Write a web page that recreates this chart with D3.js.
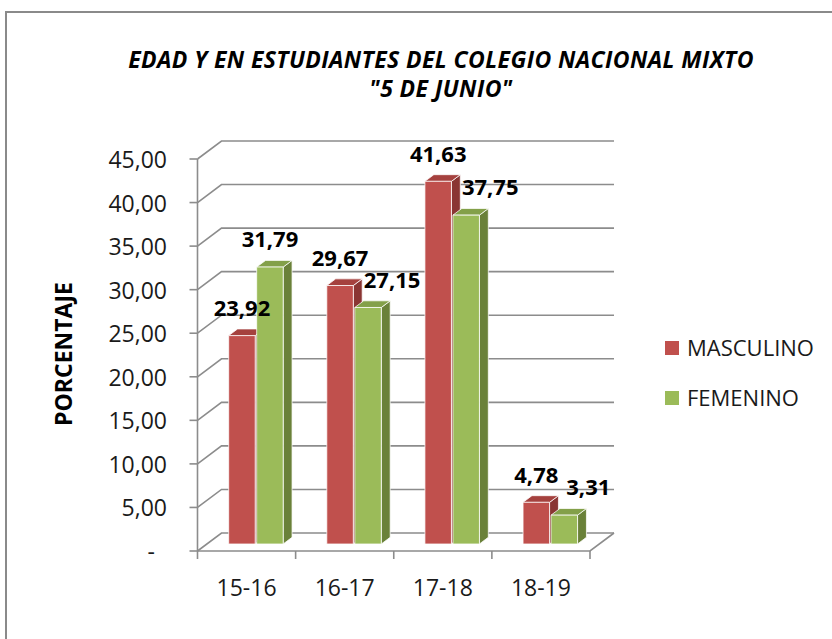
<!DOCTYPE html>
<html>
<head>
<meta charset="utf-8">
<script src="https://cdn.jsdelivr.net/npm/d3@7"></script>
<style>
	body { margin: 0; background: #fff; }
	svg { display: block; font-family: "Open Sans", sans-serif; }
</style>
</head>
<body>
<svg width="832" height="639"></svg>
<script>
const categories = ["15-16", "16-17", "17-18", "18-19"]
const seriesNames = ["MASCULINO", "FEMENINO"]
const masculino = [23.92, 29.67, 41.63, 4.78]
const femenino = [31.79, 27.15, 37.75, 3.31]
const yTicks = [0, 5, 10, 15, 20, 25, 30, 35, 40, 45]
const titleLines = ["EDAD Y EN ESTUDIANTES DEL COLEGIO NACIONAL MIXTO", "\"5 DE JUNIO\""]
const yTitle = "PORCENTAJE"

const colors = {
	MASCULINO: { front: "#c0504d", top: "#a5413e", side: "#8a3533" },
	FEMENINO: { front: "#9bbb59", top: "#83a049", side: "#6a8139" }
}

const svg = d3.select("svg")
const locale = d3.formatLocale({ decimal: ",", thousands: ".", grouping: [3], currency: ["", ""] })
const fmt = locale.format(".2f")

// front plane of the 3d box
const left = 197.5, right = 590
const depth = [24, -18]
const d0 = 0.39, d1 = 0.76   // bars sit inside the box
const barW = 26.5, barGap = 1.5

const x = d3.scaleBand().domain(categories).range([left, right])
const y = d3.scaleLinear().domain([0, 45]).range([551, 159])

function P(px, v, d) {
	return [px + depth[0] * d, y(v) + depth[1] * d]
}

// outer frame
svg.append("rect")
	.attr("x", 6).attr("y", 12)
	.attr("width", 840).attr("height", 640)
	.attr("fill", "none").attr("stroke", "#8a8a8a").attr("stroke-width", 2)

// title
svg.append("g").selectAll("text")
	.data(titleLines)
	.enter().append("text")
	.attr("x", 441)
	.attr("y", (d, i) => 68 + i * 29)
	.attr("text-anchor", "middle")
	.attr("font-size", 23)
	.attr("letter-spacing", 0.4)
	.attr("font-weight", "bold")
	.attr("font-style", "italic")
	.attr("fill", "#000")
	.text(d => d)

const grid = svg.append("g")
	.attr("fill", "none")
	.attr("stroke", "#8c8c8c")
	.attr("stroke-width", 1.6)

// back wall gridlines
grid.selectAll("path.grid")
	.data(yTicks)
	.enter().append("path")
	.attr("class", "grid")
	.attr("d", v => d3.line()([P(left, v, 0), P(left, v, 1), P(right, v, 1)]))

// floor front and right edges
grid.append("path")
	.attr("d", d3.line()([P(left, 0, 0), P(right, 0, 0), P(right, 0, 1)]))

// y axis
grid.append("line")
	.attr("x1", left).attr("x2", left)
	.attr("y1", y(45)).attr("y2", y(0) + 8)
grid.selectAll("line.ytick")
	.data(yTicks)
	.enter().append("line")
	.attr("class", "ytick")
	.attr("x1", left - 8).attr("x2", left)
	.attr("y1", v => y(v)).attr("y2", v => y(v))

// x axis ticks
const xBounds = categories.map(c => x(c)).concat([right])
grid.selectAll("line.xtick")
	.data(xBounds.slice(1))
	.enter().append("line")
	.attr("class", "xtick")
	.attr("x1", d => d).attr("x2", d => d)
	.attr("y1", y(0)).attr("y2", y(0) + 8)

// y tick labels
svg.append("g").selectAll("text")
	.data(yTicks)
	.enter().append("text")
	.attr("x", v => v === 0 ? 155 : 167)
	.attr("y", v => y(v) + 9)
	.attr("text-anchor", "end")
	.attr("font-size", 23)
	.attr("fill", "#1a1a1a")
	.text(v => v === 0 ? "-" : fmt(v))

// y title
svg.append("text")
	.attr("transform", "translate(72,354) rotate(-90)")
	.attr("text-anchor", "middle")
	.attr("font-size", 23)
	.attr("font-weight", "bold")
	.text(yTitle)

// x labels
svg.append("g").selectAll("text")
	.data(categories)
	.enter().append("text")
	.attr("x", c => x(c) + x.bandwidth() / 2)
	.attr("y", 596)
	.attr("text-anchor", "middle")
	.attr("font-size", 23)
	.attr("fill", "#1a1a1a")
	.text(c => c)

// bars
const bars = []
categories.forEach((c, i) => {
	const start = x(c) + (x.bandwidth() - (barW * 2 + barGap)) / 2
	bars.push({ cat: c, s: "MASCULINO", v: masculino[i], x0: start })
	bars.push({ cat: c, s: "FEMENINO", v: femenino[i], x0: start + barW + barGap })
})

const barG = svg.append("g")
	.attr("stroke", "#fff")
	.attr("stroke-opacity", 0.75)
	.attr("stroke-width", 1)
	.attr("stroke-linejoin", "round")

bars.forEach(b => {
	const g = barG.append("g")
	const x1 = b.x0 + barW
	g.append("path")
		.attr("fill", colors[b.s].side)
		.attr("d", d3.line()([P(x1, 0, d0), P(x1, b.v, d0), P(x1, b.v, d1), P(x1, 0, d1)]) + "Z")
	g.append("path")
		.attr("fill", colors[b.s].top)
		.attr("d", d3.line()([P(b.x0, b.v, d0), P(x1, b.v, d0), P(x1, b.v, d1), P(b.x0, b.v, d1)]) + "Z")
	g.append("path")
		.attr("fill", colors[b.s].front)
		.attr("d", d3.line()([P(b.x0, 0, d0), P(b.x0, b.v, d0), P(x1, b.v, d0), P(x1, 0, d0)]) + "Z")
})

// data labels, green label moved right when it would collide with the red one
const labels = []
categories.forEach((c, i) => {
	const r = bars[i * 2], f = bars[i * 2 + 1]
	const rx = P(r.x0 + barW / 2, r.v, d0)[0]
	const ry = P(r.x0, r.v, d1)[1] - 13
	let fx = P(f.x0 + barW / 2, f.v, d0)[0]
	const fy = P(f.x0, f.v, d1)[1] - 13
	if (Math.abs(fy - ry) < 45) fx = Math.max(fx, rx + 52)
	labels.push({ x: rx, y: ry, v: r.v })
	labels.push({ x: fx, y: fy, v: f.v })
})

svg.append("g").selectAll("text")
	.data(labels)
	.enter().append("text")
	.attr("x", d => d.x)
	.attr("y", d => d.y)
	.attr("text-anchor", "middle")
	.attr("font-size", 22)
	.attr("font-weight", "bold")
	.attr("fill", "#000")
	.text(d => fmt(d.v))

// legend
const legend = svg.append("g").selectAll("g")
	.data(seriesNames)
	.enter().append("g")
	.attr("transform", (d, i) => `translate(665,${348 + i * 50})`)
legend.append("rect")
	.attr("x", 0).attr("y", -7)
	.attr("width", 14).attr("height", 14)
	.attr("fill", d => colors[d].front)
legend.append("text")
	.attr("x", 22).attr("y", 8)
	.attr("font-size", 22)
	.attr("fill", "#1a1a1a")
	.text(d => d)
</script>
</body>
</html>
